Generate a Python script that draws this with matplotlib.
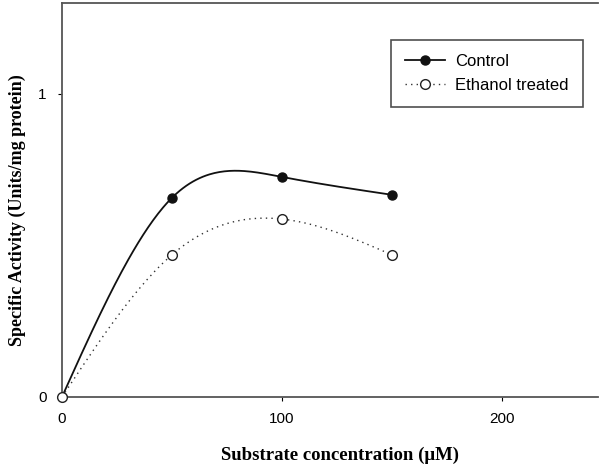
import matplotlib.pyplot as plt
import numpy as np

# substrate concentration (uM) and specific activity (Units/mg protein)
conc = [0, 50, 100, 150]
control = [0, 0.657, 0.726, 0.667]
ethanol = [0, 0.469, 0.587, 0.469]

x_ticks = [0, 100, 200]
y_ticks = [0, 1]


def smooth(xs, ys, n=200):
    # natural cubic spline through the measured points
    xs = np.asarray(xs, float)
    ys = np.asarray(ys, float)
    k = len(xs)
    h = np.diff(xs)
    A = np.zeros((k, k))
    b = np.zeros(k)
    A[0, 0] = A[-1, -1] = 1
    for i in range(1, k - 1):
        A[i, i - 1] = h[i - 1]
        A[i, i] = 2 * (h[i - 1] + h[i])
        A[i, i + 1] = h[i]
        b[i] = 6 * ((ys[i + 1] - ys[i]) / h[i] - (ys[i] - ys[i - 1]) / h[i - 1])
    m = np.linalg.solve(A, b)
    xx = np.linspace(xs[0], xs[-1], n)
    idx = np.clip(np.searchsorted(xs, xx) - 1, 0, k - 2)
    x0, x1 = xs[idx], xs[idx + 1]
    y0, y1 = ys[idx], ys[idx + 1]
    m0, m1 = m[idx], m[idx + 1]
    hh = x1 - x0
    yy = (m0 * (x1 - xx) ** 3 + m1 * (xx - x0) ** 3) / (6 * hh) \
        + (y0 / hh - m0 * hh / 6) * (x1 - xx) + (y1 / hh - m1 * hh / 6) * (xx - x0)
    return xx, yy


fig = plt.figure(figsize=(6.04, 4.67), dpi=100)
ax = fig.add_axes([0.1026, 0.150, 0.887, 0.8437])

xc, yc = smooth(conc, control)
xe, ye = smooth(conc, ethanol)

ax.plot(xc, yc, color='#111111', lw=1.3)
ax.plot(xe, ye, color='#333333', lw=1.0, linestyle=(0, (1, 3)))
ax.plot(conc, control, 'o', color='#111111', markersize=6.5, zorder=3)
ax.plot(conc, ethanol, 'o', markerfacecolor='white', markeredgecolor='#222222',
        markersize=7, markeredgewidth=1.0, zorder=3, clip_on=False)

# legend proxies
ax.plot([], [], '-o', color='#111111', lw=1.3, markersize=6.5, label='Control')
ax.plot([], [], 'o', linestyle=(0, (1, 3)), color='#333333', lw=1.0,
        markerfacecolor='white', markeredgecolor='#222222', markersize=7,
        label='Ethanol treated')
handles, labels = ax.get_legend_handles_labels()
leg = ax.legend(handles[-2:], labels[-2:], loc='upper right',
                bbox_to_anchor=(0.972, 0.906), borderaxespad=0,
                frameon=True, fancybox=False,
                prop={'family': 'Liberation Sans', 'size': 12},
                handlelength=2.4, handletextpad=0.6, borderpad=0.85,
                labelspacing=0.55)
leg.get_frame().set_edgecolor('#222222')
leg.get_frame().set_linewidth(1.2)

ax.set_xlim(0, 243.6)
ax.set_ylim(0, 1.3)
ax.set_xticks(x_ticks)
ax.set_yticks(y_ticks)
ax.tick_params(direction='out', length=3, width=0.8, labelsize=11, pad=8)
for lab in ax.get_xticklabels() + ax.get_yticklabels():
    lab.set_family('Liberation Sans')

ax.spines['right'].set_visible(False)
for s in ['left', 'top', 'bottom']:
    ax.spines[s].set_color('#555555')
    ax.spines[s].set_linewidth(1.3)

ax.set_xlabel('Substrate concentration (\u03bcM)', fontsize=13.5,
              fontweight='bold', family='Liberation Serif')
ax.set_ylabel('Specific Activity (Units/mg protein)', fontsize=13,
              fontweight='bold', family='Liberation Serif')
ax.xaxis.set_label_coords(0.519, -0.127)
ax.yaxis.set_label_coords(-0.067, 0.475)

fig.savefig('out.png', dpi=100)
